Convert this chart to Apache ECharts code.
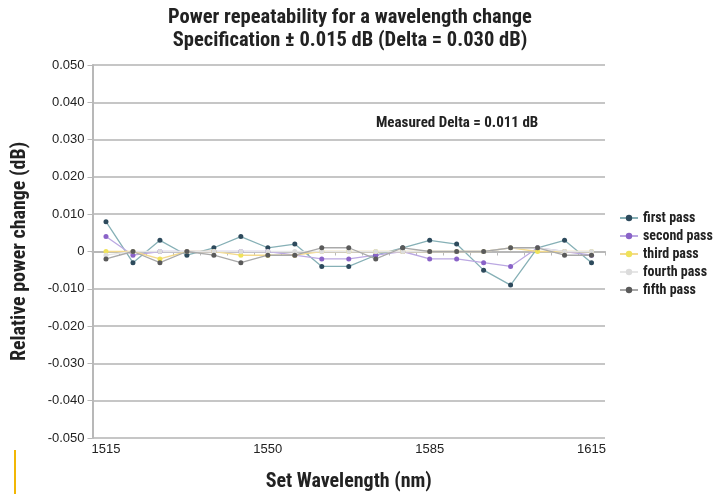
<!DOCTYPE html>
<html><head><meta charset="utf-8">
<script src="https://cdn.jsdelivr.net/npm/echarts@6/dist/echarts.min.js"></script>
<style>html,body{margin:0;padding:0;background:#fff}#c{width:717px;height:494px}</style>
</head><body><div id="c"></div>
<script>
const categories = ['1515','1521','1527','1533','1538','1544','1550','1556','1562','1568','1573','1579','1585','1590','1595','1600','1605','1610','1615'];
const firstPass  = [0.008,-0.003,0.003,-0.001,0.001,0.004,0.001,0.002,-0.004,-0.004,-0.001,0.001,0.003,0.002,-0.005,-0.009,0.001,0.003,-0.003];
const secondPass = [0.004,-0.001,0,0,0,0,0,-0.001,-0.002,-0.002,-0.001,0,-0.002,-0.002,-0.003,-0.004,0.001,0,-0.001];
const thirdPass  = [0,0,-0.002,0,0,-0.001,-0.001,-0.001,0,0,0,0,0,0,0,0.001,0,0,0];
const fourthPass = [-0.001,0,0,0,0,0,0,0,0,0,0,0,0,0,0,0.001,0.001,0,0];
const fifthPass  = [-0.002,0,-0.003,0,-0.001,-0.003,-0.001,-0.001,0.001,0.001,-0.002,0.001,0,0,0,0.001,0.001,-0.001,-0.001];
const yTicks = [-0.05,-0.04,-0.03,-0.02,-0.01,0,0.01,0.02,0.03,0.04,0.05];

const FONT = "'Liberation Sans Narrow','Arial Narrow','Roboto Condensed','Liberation Sans',sans-serif";
const REG = "'Liberation Sans',Arial,sans-serif";
const chart = echarts.init(document.getElementById('c'));
function mk(name, data, line, item) {
  return {name, type:'line', data, symbol:'circle', symbolSize:5, showSymbol:true,
    lineStyle:{color:line, width:1.3}, itemStyle:{color:item}, animation:false};
}
chart.setOption({
  animation:false,
  backgroundColor:'#fff',
  title:[{text:'Power repeatability for a wavelength change\nSpecification \u00b1 0.015 dB (Delta = 0.030 dB)',
    left:345, top:1, textAlign:'center',
    textStyle:{fontFamily:FONT, fontSize:20.5, fontWeight:'bold', color:'#222', lineHeight:23}}],
  grid:{left:92.5, right:112, top:65, bottom:56, containLabel:false, outerBoundsMode:'none'},
  legend:{orient:'vertical', left:614, top:206, itemGap:4, itemWidth:18, itemHeight:8,
    textStyle:{fontFamily:FONT, fontSize:14, fontWeight:'bold', color:'#222'},
    data:['first pass','second pass','third pass','fourth pass','fifth pass']},
  xAxis:{type:'category', data:categories, boundaryGap:true,
    name:'Set Wavelength (nm)', nameLocation:'middle', nameGap:34,
    nameTextStyle:{fontFamily:FONT, fontSize:20, fontWeight:'bold', color:'#222'},
    axisLine:{lineStyle:{color:'#b8b8b8', width:2}},
    axisTick:{show:true, interval:0, length:4, lineStyle:{color:'#b8b8b8'}},
    axisLabel:{interval:(i)=> i % 6 === 0, fontFamily:REG, fontSize:13, color:'#222', margin:5},
    splitLine:{show:false}},
  yAxis:{type:'value', min:-0.05, max:0.05, interval:0.01,
    name:'Relative power change (dB)', nameLocation:'middle', nameGap:63, nameRotate:90,
    nameTextStyle:{fontFamily:FONT, fontSize:20, fontWeight:'bold', color:'#222'},
    axisLine:{show:true, lineStyle:{color:'#b8b8b8', width:2}},
    axisTick:{show:true, length:5, lineStyle:{color:'#b8b8b8'}},
    axisLabel:{fontFamily:REG, fontSize:13, color:'#222', margin:8,
      formatter:(v)=> Math.abs(v) < 1e-9 ? '0' : v.toFixed(3)},
    splitLine:{show:true, lineStyle:{color:'#c6c6c6', width:2}}},
  graphic:[
    {type:'text', left:376, top:116, style:{text:'Measured Delta = 0.011 dB', fill:'#222',
      font:"bold 15px 'Liberation Sans Narrow','Arial Narrow','Roboto Condensed','Liberation Sans',sans-serif"}},
    {type:'line', shape:{x1:15, y1:450, x2:15, y2:494}, style:{stroke:'#f2b705', lineWidth:2}}
  ],
  series:[
    mk('first pass', firstPass, '#86b0b6', '#2d4a5c'),
    mk('second pass', secondPass, '#bba8e2', '#8a63c8'),
    mk('third pass', thirdPass, '#f3d98c', '#efe25a'),
    mk('fourth pass', fourthPass, '#e6e6e6', '#dcdcdc'),
    mk('fifth pass', fifthPass, '#a9a9a9', '#5a5a5a')
  ]
});
</script></body></html>
